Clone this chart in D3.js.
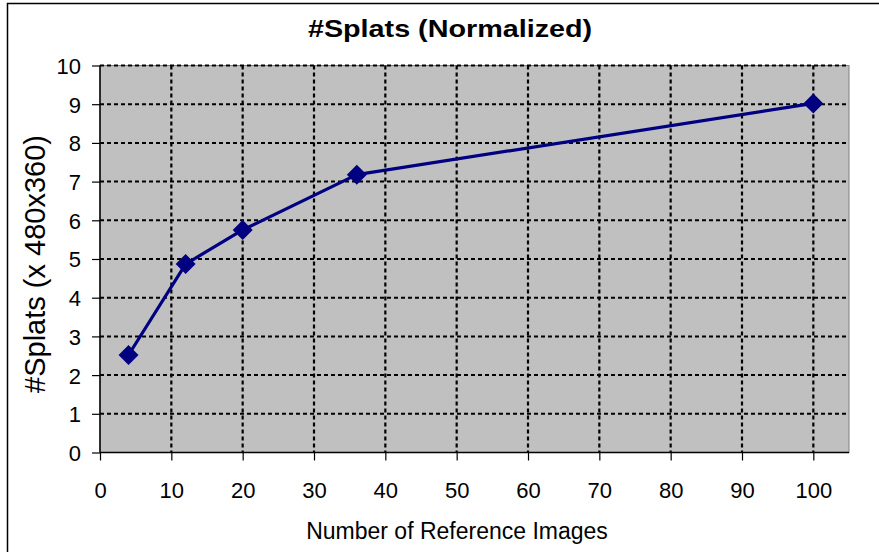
<!DOCTYPE html>
<html>
<head>
<meta charset="utf-8">
<script src="https://cdn.jsdelivr.net/npm/d3@7/dist/d3.min.js"></script>
<style>
  html, body { margin: 0; padding: 0; background: #fff; }
  svg { display: block; }
  text { font-family: "Liberation Sans", Arial, sans-serif; fill: #000; }
</style>
</head>
<body>
<script>
// ---- data ----
const refImages = [4, 12, 20, 36, 100];
const splats = [2.52, 4.87, 5.75, 7.18, 9.02];
const xTicks = [0, 10, 20, 30, 40, 50, 60, 70, 80, 90, 100];
const yTicks = [0, 1, 2, 3, 4, 5, 6, 7, 8, 9, 10];
const titleText = "#Splats (Normalized)";
const xTitleText = "Number of Reference Images";
const yTitleText = "#Splats (x 480x360)";

const W = 879, H = 552;
const plot = { left: 100, right: 849, top: 65.5, bottom: 452.5 };

const svg = d3.select("body").append("svg").attr("width", W).attr("height", H);

// outer frame
svg.append("rect")
  .attr("x", 7.5).attr("y", 3.5).attr("width", W + 20).attr("height", H + 20)
  .attr("fill", "#fff").attr("stroke", "#000").attr("stroke-width", 1.5);

const x = d3.scaleLinear().domain([0, 105]).range([plot.left, plot.right]);
const y = d3.scaleLinear().domain([0, 10]).range([plot.bottom, plot.top]);

// plot background
svg.append("rect")
  .attr("x", plot.left).attr("y", plot.top)
  .attr("width", plot.right - plot.left).attr("height", plot.bottom - plot.top)
  .attr("fill", "#C0C0C0").attr("stroke", "#808080").attr("stroke-width", 1);

// gridlines
const grid = svg.append("g");
grid.selectAll("line.vg").data(xTicks.filter(d => d > 0)).enter().append("line")
  .attr("x1", d => x(d)).attr("x2", d => x(d))
  .attr("y1", plot.top).attr("y2", plot.bottom)
  .attr("stroke", "#000").attr("stroke-width", 2.2).attr("stroke-dasharray", "4,3");
grid.selectAll("line.hg").data(yTicks.filter(d => d > 0)).enter().append("line")
  .attr("y1", d => y(d)).attr("y2", d => y(d))
  .attr("x1", plot.left).attr("x2", plot.right)
  .attr("stroke", "#000").attr("stroke-width", 2).attr("stroke-dasharray", "4,3");

// axes
const xAxis = d3.axisBottom(x).tickValues(xTicks).tickSize(8).tickPadding(22);
const yAxis = d3.axisLeft(y).tickValues(yTicks).tickSize(8).tickPadding(11);

const gx = svg.append("g").attr("transform", `translate(0,${plot.bottom})`).call(xAxis);
const gy = svg.append("g").attr("transform", `translate(${plot.left},0)`).call(yAxis);

[gx, gy].forEach(g => {
  g.select(".domain").attr("stroke", "#000").attr("stroke-width", 1.5);
  g.selectAll(".tick line").attr("stroke", "#000").attr("stroke-width", 1.2);
  g.selectAll(".tick text")
    .style("font-family", '"Liberation Sans", Arial, sans-serif')
    .style("font-size", "22px").attr("fill", "#000");
});
gx.select(".domain").attr("d", `M${plot.left},0H${plot.right}`);
gy.select(".domain").attr("d", `M0,${plot.bottom}V${plot.top}`);
gy.selectAll(".tick text").attr("dy", "0.36em");
gx.selectAll(".tick text").attr("dy", "0.71em");

// line
const line = d3.line().x((d, i) => x(refImages[i])).y(d => y(d));
svg.append("path").datum(splats)
  .attr("d", line).attr("fill", "none")
  .attr("stroke", "#000080").attr("stroke-width", 3.2).attr("stroke-linejoin", "round");

// markers (diamonds)
const diamond = d3.symbol().type(d3.symbolSquare).size(200);
svg.selectAll("path.marker").data(splats).enter().append("path")
  .attr("class", "marker")
  .attr("d", diamond)
  .attr("transform", (d, i) => `translate(${x(refImages[i])},${y(d)}) rotate(45)`)
  .attr("fill", "#000080");

// titles
svg.append("text")
  .attr("transform", "translate(450,37) scale(1.25,1)")
  .attr("text-anchor", "middle")
  .style("font-size", "23px").style("font-weight", "bold")
  .text(titleText);

svg.append("text")
  .attr("x", 457).attr("y", 539)
  .attr("text-anchor", "middle")
  .style("font-size", "23px")
  .text(xTitleText);

svg.append("text")
  .attr("transform", "translate(45,264) rotate(-90)")
  .attr("text-anchor", "middle")
  .style("font-size", "29px")
  .text(yTitleText);
</script>
</body>
</html>
